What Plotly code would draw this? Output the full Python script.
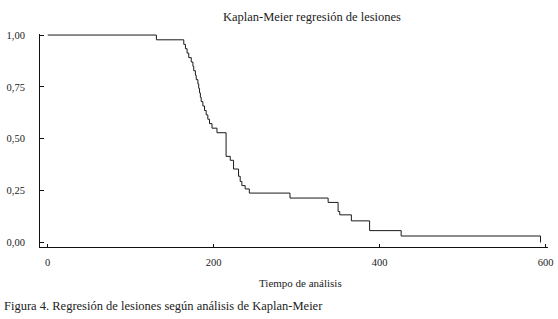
import plotly.graph_objects as go

# Kaplan-Meier step data
times = [0, 131, 164, 166, 168, 170, 173, 175, 176, 178,
         179, 181, 182, 183, 184, 185, 187, 189, 191, 193,
         195, 198, 204, 215, 220, 224, 230, 232, 234, 238,
         243, 292, 338, 350, 352, 366, 388, 426, 594]
survival = [1.0, 0.977, 0.955, 0.934, 0.913, 0.891, 0.870, 0.849, 0.828, 0.806,
            0.785, 0.764, 0.743, 0.721, 0.700, 0.679, 0.658, 0.636, 0.615, 0.594,
            0.573, 0.551, 0.529, 0.415, 0.396, 0.354, 0.319, 0.294, 0.274, 0.258,
            0.238, 0.214, 0.193, 0.149, 0.133, 0.104, 0.057, 0.031, 0.0]

x_ticks = [0, 200, 400, 600]
y_ticks = [0.0, 0.25, 0.5, 0.75, 1.0]

title_text = "Kaplan-Meier regresión de lesiones"
x_title = "Tiempo de análisis"
caption = "Figura 4. Regresión de lesiones según análisis de Kaplan-Meier"

FONT = "Liberation Serif"

fig = go.Figure()
fig.add_trace(go.Scatter(
    x=times, y=survival, mode="lines", line_shape="hv",
    line=dict(color="#1a1a1a", width=1), showlegend=False, hoverinfo="skip"))

fig.update_layout(
    width=558, height=319,
    margin=dict(l=40, r=10, t=34, b=72),
    paper_bgcolor="white", plot_bgcolor="white",
    separators=",.",
    font=dict(family=FONT, color="#222", size=11),
    title=dict(text=title_text, x=0.559, xanchor="center", y=0.947, yanchor="middle",
               font=dict(family=FONT, size=12.5, color="#222")),
    annotations=[
        dict(text=x_title, xref="paper", yref="paper", x=0.512, y=-0.169,
             xanchor="center", yanchor="middle", showarrow=False,
             font=dict(family=FONT, size=11, color="#222")),
        dict(text=caption, xref="paper", yref="paper", x=-0.075, y=-0.277,
             xanchor="left", yanchor="middle", showarrow=False,
             font=dict(family=FONT, size=12.5, color="#222")),
    ],
)

fig.update_xaxes(
    range=[-9.3, 603], tickvals=x_ticks, ticktext=[str(v) for v in x_ticks],
    automargin=False,
    showgrid=False, zeroline=False, showline=True, linecolor="#111", linewidth=1,
    ticks="inside", ticklen=3, tickcolor="#111", ticklabelstandoff=5,
    tickfont=dict(family=FONT, size=10.5, color="#222"))
fig.update_yaxes(
    range=[-0.022, 1.005], tickvals=y_ticks, tickformat=".2f",
    automargin=False,
    showgrid=False, zeroline=False, showline=True, linecolor="#111", linewidth=1,
    ticks="inside", ticklen=4, tickcolor="#111", ticklabelstandoff=12,
    tickfont=dict(family=FONT, size=10.5, color="#222"))

fig.write_html("out.html", config={"displayModeBar": False},
               post_script="document.body.style.margin='0';")
